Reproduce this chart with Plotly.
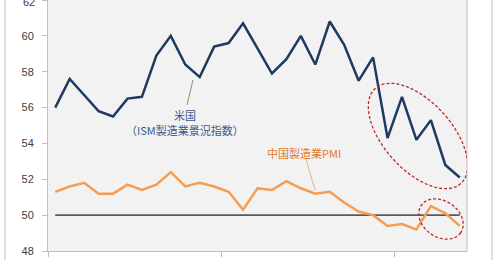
import math
import plotly.graph_objects as go

# ---- data (monthly, 29 points) ----
months = list(range(29))
us_ism = [56.0, 57.6, 56.7, 55.8, 55.5, 56.5, 56.6, 58.9, 60.0, 58.4, 57.7, 59.4, 59.6, 60.7,
          59.3, 57.9, 58.7, 60.0, 58.4, 60.8, 59.5, 57.5, 58.8, 54.3, 56.6, 54.2, 55.3, 52.8, 52.1]
china_pmi = [51.3, 51.6, 51.8, 51.2, 51.2, 51.7, 51.4, 51.7, 52.4, 51.6, 51.8, 51.6, 51.3, 50.3,
             51.5, 51.4, 51.9, 51.5, 51.2, 51.3, 50.7, 50.2, 50.0, 49.4, 49.5, 49.2, 50.5, 50.1, 49.4]
baseline = [50.0] * len(months)
y_ticks = [48, 50, 52, 54, 56, 58, 60, 62]
year_ticks = [-0.5, 11.5, 23.5]

W, H = 497, 260
ML, MR, MT, MB = 48, 30, 0, 9
PW, PH = W - ML - MR, H - MT - MB
XR = [-0.5, 28.5]
YR = [48, 62]


def px2x(px):
    return XR[0] + (px - ML) / PW * (XR[1] - XR[0])


def px2y(py):
    return YR[0] + (MT + PH - py) / PH * (YR[1] - YR[0])


def ellipse_path(cx, cy, a, b, deg, n=72):
    t = math.radians(deg)
    pts = []
    for k in range(n + 1):
        u = 2 * math.pi * k / n
        ex = a * math.cos(u)
        ey = b * math.sin(u)
        x = cx + ex * math.cos(t) - ey * math.sin(t)
        y = cy + ex * math.sin(t) + ey * math.cos(t)
        pts.append((px2x(x), px2y(y)))
    return "M " + " L ".join(f"{x:.4f},{y:.4f}" for x, y in pts) + " Z"


fig = go.Figure()
fig.add_trace(go.Scatter(x=months, y=baseline, mode="lines",
                         line=dict(color="#595959", width=1.8), hoverinfo="skip"))
fig.add_trace(go.Scatter(x=months, y=china_pmi, mode="lines",
                         line=dict(color="#f59d52", width=2.5)))
fig.add_trace(go.Scatter(x=months, y=us_ism, mode="lines",
                         line=dict(color="#1f3a60", width=2.5)))

shapes = [
    # outer chart frame lines
    dict(type="line", xref="paper", yref="paper", x0=(5 - ML) / PW, x1=(5 - ML) / PW,
         y0=-MB / PH, y1=1, line=dict(color="#bfbfbf", width=1)),
    dict(type="line", xref="paper", yref="paper", x0=(492 - ML) / PW, x1=(492 - ML) / PW,
         y0=-MB / PH, y1=1, line=dict(color="#bfbfbf", width=1)),
    # plot area right border
    dict(type="line", xref="paper", yref="paper", x0=1, x1=1, y0=0, y1=1,
         line=dict(color="#bfbfbf", width=1)),
    # leader lines
    dict(type="line", x0=px2x(193), y0=px2y(80), x1=px2x(187), y1=px2y(105),
         line=dict(color="#8c8c8c", width=1)),
    dict(type="line", x0=px2x(306), y0=px2y(159), x1=px2x(315), y1=px2y(190),
         line=dict(color="#d9b48f", width=1)),
    # dashed ellipses
    dict(type="path", path=ellipse_path(418, 136, 64, 34, 48),
         line=dict(color="#c0282d", width=1.3, dash="3px,2px")),
    dict(type="path", path=ellipse_path(441, 219, 24, 18, 35),
         line=dict(color="#c0282d", width=1.3, dash="3px,2px")),
]

annotations = [
    dict(x=px2x(185), y=px2y(115), text="米国", showarrow=False,
         font=dict(family="Noto Sans CJK JP", size=11, color="#3a5a8c")),
    dict(x=px2x(185), y=px2y(130), text="（ISM製造業景況指数）", showarrow=False,
         font=dict(family="Noto Sans CJK JP", size=11, color="#3a5a8c")),
    dict(x=px2x(303.5), y=px2y(153), text="中国製造業PMI", showarrow=False,
         font=dict(family="Noto Sans CJK JP", size=11, color="#e07a2e")),
    # partially visible top tick label
    dict(xref="paper", x=(37 - ML) / PW, xanchor="right", y=y_ticks[-1], yshift=-2,
         yanchor="middle", text=str(y_ticks[-1]), showarrow=False,
         font=dict(family="Liberation Sans", size=11, color="#404040")),
]

fig.update_layout(
    width=W, height=H,
    margin=dict(l=ML, r=MR, t=MT, b=MB, pad=0),
    paper_bgcolor="white", plot_bgcolor="#f2f2f2",
    showlegend=False,
    shapes=shapes, annotations=annotations,
    xaxis=dict(range=XR, tickmode="array", tickvals=year_ticks, ticktext=["", "", ""],
               ticks="outside", ticklen=5, tickcolor="#bfbfbf", showgrid=False,
               zeroline=False, showline=True, linecolor="#bfbfbf", linewidth=1),
    yaxis=dict(range=YR, tickmode="array", tickvals=y_ticks,
               ticks="outside", ticklen=5, tickcolor="#bfbfbf", showgrid=False,
               zeroline=False, showline=True, linecolor="#bfbfbf", linewidth=1,
               ticklabelstandoff=6,
               tickfont=dict(family="Liberation Sans", size=11, color="#404040")),
)

fig.write_html("out.html")
